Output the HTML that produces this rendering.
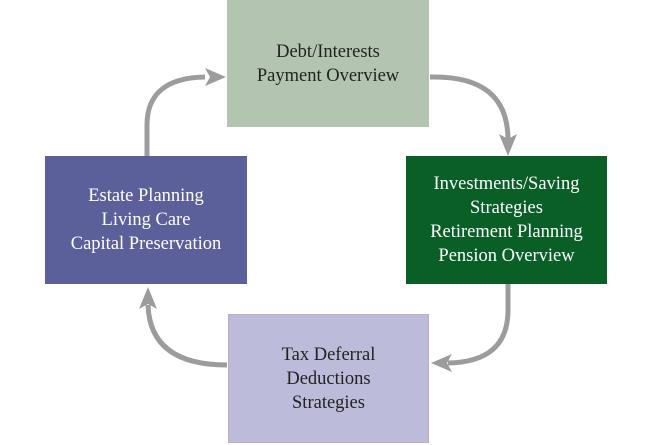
<!DOCTYPE html>
<html><head><style>
body{margin:0;background:#fff;width:650px;height:445px;position:relative;overflow:hidden;font-family:"Liberation Serif",serif;}
.b{position:absolute;display:flex;align-items:center;justify-content:center;text-align:center;font-size:18.5px;line-height:24px;}
</style></head><body>
<svg width="650" height="445" style="position:absolute;left:0;top:0">
<g fill="none" stroke="#9c9c9e" stroke-width="5">
<path d="M147,156 L147,125 Q147,78 205,77"/>
<path d="M430,77 Q508,75 508,140"/>
<path d="M508,284 L508,310 Q508,362 448,363"/>
<path d="M227,365 Q150,365 148,305"/>
</g>
<g fill="#9c9c9e">
<polygon points="226,77 205,68 210,77 205,86"/>
<polygon points="508,156 499,134 508,139 517,134"/>
<polygon points="431,363 452,354 447,363 452,372"/>
<polygon points="148,287 139,309 148,304 157,309"/>
</g>
</svg>
<div class="b" style="left:227px;top:0;width:202px;height:127px;background:#b3c4b0;color:#222">Debt/Interests<br>Payment Overview</div>
<div class="b" style="left:45px;top:156px;width:202px;height:128px;background:#5b5f9a;color:#fff">Estate Planning<br>Living Care<br>Capital Preservation</div>
<div class="b" style="left:406px;top:156px;width:201px;height:128px;background:#0a5f27;color:#fff">Investments/Saving<br>Strategies<br>Retirement Planning<br>Pension Overview</div>
<div class="b" style="left:228px;top:314px;width:201px;height:129px;background:#bcbcda;color:#222;box-sizing:border-box;border:1px solid #c8a8c0">Tax Deferral<br>Deductions<br>Strategies</div>
</body></html>
